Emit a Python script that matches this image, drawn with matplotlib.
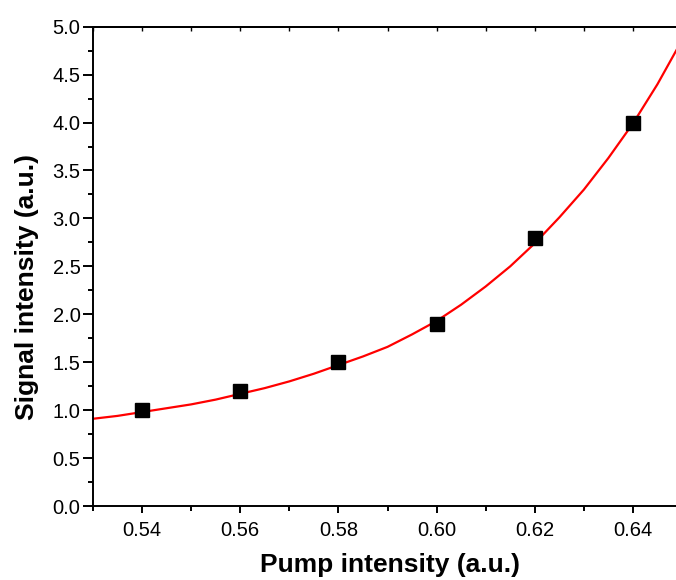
import matplotlib
matplotlib.use("Agg")
import matplotlib.pyplot as plt
from matplotlib.ticker import MultipleLocator

plt.rcParams['font.family'] = ['Liberation Sans', 'DejaVu Sans']

# measured data points
pump = [0.54, 0.56, 0.58, 0.60, 0.62, 0.64]
signal = [1.00, 1.20, 1.50, 1.90, 2.80, 4.00]

# fitted curve
fit_x = [0.530, 0.535, 0.540, 0.545, 0.550, 0.555, 0.560, 0.565, 0.570, 0.575,
         0.580, 0.585, 0.590, 0.595, 0.600, 0.605, 0.610, 0.615, 0.620, 0.625,
         0.630, 0.635, 0.640, 0.645, 0.650]
fit_y = [0.91, 0.94, 0.98, 1.02, 1.06, 1.11, 1.17, 1.23, 1.30, 1.38,
         1.47, 1.56, 1.66, 1.79, 1.93, 2.10, 2.29, 2.50, 2.74, 3.01,
         3.30, 3.63, 3.99, 4.40, 4.86]

x_ticks = [0.54, 0.56, 0.58, 0.60, 0.62, 0.64]
x_labels = ["0.54", "0.56", "0.58", "0.60", "0.62", "0.64"]
y_ticks = [0.0, 0.5, 1.0, 1.5, 2.0, 2.5, 3.0, 3.5, 4.0, 4.5, 5.0]
y_labels = ["0.0", "0.5", "1.0", "1.5", "2.0", "2.5", "3.0", "3.5", "4.0", "4.5", "5.0"]

fig = plt.figure(figsize=(6.76, 5.8), dpi=100)
ax = fig.add_axes([93/676, 74/580, 589/676, 479.3/580])

ax.plot(fit_x, fit_y, color='#ff0000', lw=1.6, zorder=2, clip_on=True)
ax.plot(pump, signal, linestyle='none', marker='s', markersize=9.5,
        color='black', zorder=3, clip_on=False)

ax.set_xlim(0.53, 0.65)
ax.set_ylim(0.0, 5.0)
ax.set_xticks(x_ticks)
ax.set_xticklabels(x_labels)
ax.set_yticks(y_ticks)
ax.set_yticklabels(y_labels)
ax.xaxis.set_minor_locator(MultipleLocator(0.01))
ax.yaxis.set_minor_locator(MultipleLocator(0.25))

for s in ax.spines.values():
    s.set_linewidth(1.4)
ax.spines['right'].set_visible(False)

ax.tick_params(axis='x', which='major', direction='out', length=5, width=1.4,
               labelsize=14.5, pad=6, top=False)
ax.tick_params(axis='x', which='minor', direction='out', length=3.5, width=1.4, top=False)
ax.tick_params(axis='y', which='major', direction='out', length=7, width=1.4,
               labelsize=14.5, pad=2)
ax.tick_params(axis='y', which='minor', direction='out', length=3.5, width=1.4)

# top axis: small inward ticks, no labels
sec = ax.secondary_xaxis('top')
sec.set_xticks(x_ticks)
sec.xaxis.set_minor_locator(MultipleLocator(0.01))
sec.tick_params(axis='x', which='both', direction='in', length=3, width=1.0, labeltop=False)
sec.spines['top'].set_linewidth(1.4)

ax.set_xlabel('Pump intensity (a.u.)', fontsize=19, fontweight='bold')
ax.set_ylabel('Signal intensity (a.u.)', fontsize=19, fontweight='bold')
ax.xaxis.set_label_coords((390-93)/589, -(553-506)/479.3)
ax.yaxis.set_label_coords(-(93-39)/589, (506-287)/479.3)

fig.savefig('out.png', dpi=100)
